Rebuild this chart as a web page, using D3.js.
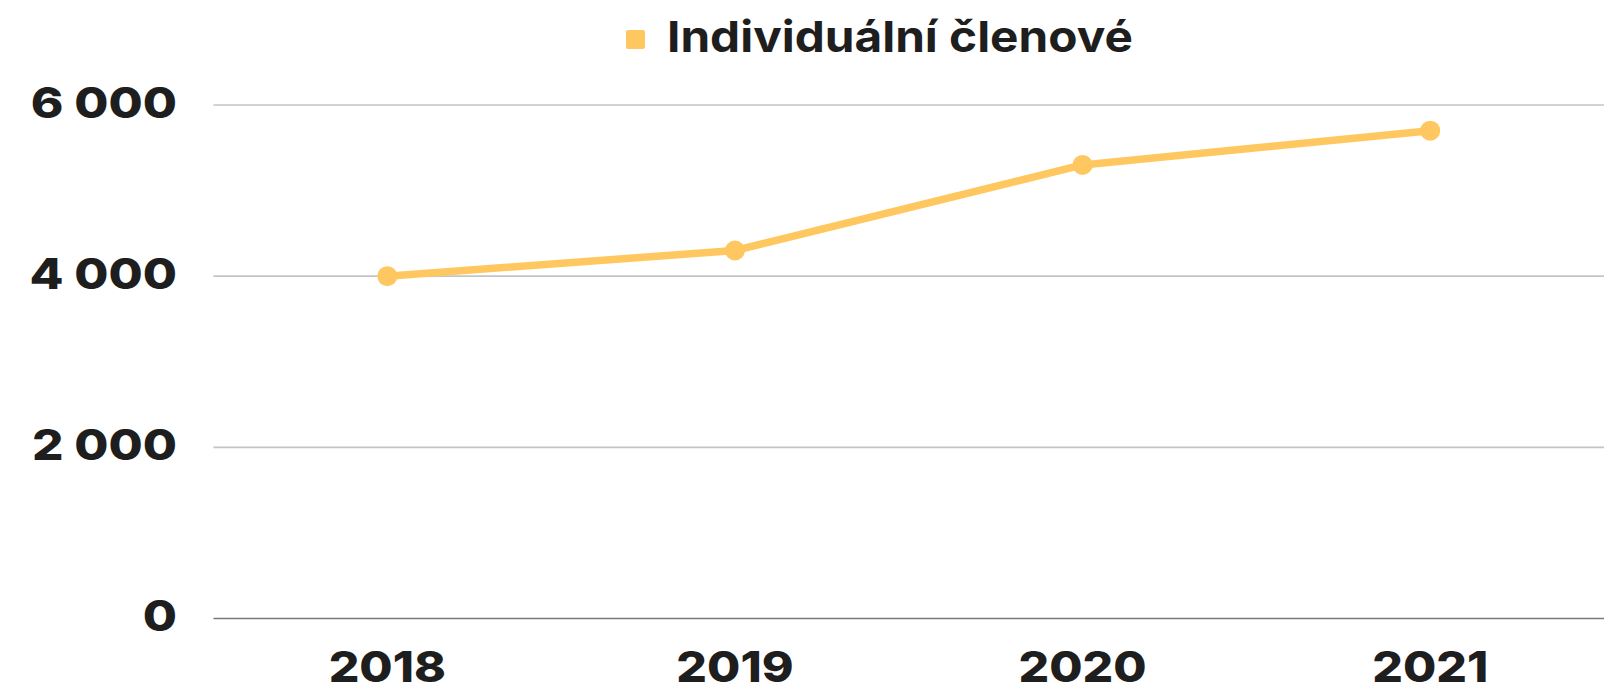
<!DOCTYPE html>
<head>
  <meta charset="UTF-8">
  <style>
    body { margin: 0; background: #fff; font-family: Inter, sans-serif; }
    svg { display: block; }
  </style>
</head>
<body>
<svg id="chart" width="1607" height="688"></svg>
<script src="https://d3js.org/d3.v7.min.js"></script>
<script>
  // data
  var years = ["2018", "2019", "2020", "2021"];
  var members = [4000, 4300, 5300, 5700];
  var yTicks = [0, 2000, 4000, 6000];
  var seriesName = "Individuální členové";

  var width = 1607, height = 688;
  var margin = {top: 105, right: 3, bottom: 69.5, left: 213.5};

  var svg = d3.select("#chart");

  var x = d3.scaleBand()
    .domain(years)
    .range([margin.left, width - margin.right]);

  var y = d3.scaleLinear()
    .domain([0, 6000])
    .range([height - margin.bottom, margin.top]);

  var fmt = function(d) { return d3.format(",")(d).replace(/,/g, " "); };

  // the original font is wider than Inter, so stretch the text a bit
  function widen(k) {
    return function(sel) {
      sel.each(function() {
        var w = this.getComputedTextLength();
        d3.select(this)
          .attr("textLength", w * k)
          .attr("lengthAdjust", "spacingAndGlyphs");
      });
    };
  }

  // gridlines
  svg.append("g")
    .selectAll("line")
    .data(yTicks)
    .join("line")
    .attr("x1", margin.left)
    .attr("x2", width - margin.right)
    .attr("y1", d => y(d))
    .attr("y2", d => y(d))
    .attr("stroke", d => d === 0 ? "#7a7a7a" : "#c4c4c4")
    .attr("stroke-width", 1.6);

  // y labels
  svg.append("g")
    .selectAll("text")
    .data(yTicks)
    .join("text")
    .attr("x", 177)
    .attr("y", d => y(d) + 12.5)
    .attr("text-anchor", "end")
    .attr("fill", "#1e1e1e")
    .attr("font-size", 43)
    .attr("font-weight", 800)
    .text(fmt)
    .call(widen(1.15));

  // x labels
  svg.append("g")
    .selectAll("text")
    .data(years)
    .join("text")
    .attr("x", d => x(d) + x.bandwidth() / 2)
    .attr("y", 682)
    .attr("text-anchor", "middle")
    .attr("fill", "#1e1e1e")
    .attr("font-size", 43)
    .attr("font-weight", 800)
    .text(d => d)
    .call(widen(1.12));

  // line
  var pts = years.map((d, i) => ({year: d, value: members[i]}));
  var line = d3.line()
    .x(d => x(d.year) + x.bandwidth() / 2)
    .y(d => y(d.value));

  svg.append("path")
    .datum(pts)
    .attr("d", line)
    .attr("fill", "none")
    .attr("stroke", "#ffc75f")
    .attr("stroke-width", 7.5)
    .attr("stroke-linejoin", "round");

  svg.append("g")
    .selectAll("circle")
    .data(pts)
    .join("circle")
    .attr("cx", d => x(d.year) + x.bandwidth() / 2)
    .attr("cy", d => y(d.value))
    .attr("r", 10)
    .attr("fill", "#ffc75f");

  // legend
  var legend = svg.append("g");
  legend.append("rect")
    .attr("x", 626)
    .attr("y", 30)
    .attr("width", 19)
    .attr("height", 19)
    .attr("rx", 2)
    .attr("fill", "#ffc75f");
  legend.append("text")
    .attr("x", 667)
    .attr("y", 52.3)
    .attr("fill", "#1e1e1e")
    .attr("font-size", 43)
    .attr("font-weight", 700)
    .text(seriesName)
    .call(widen(1.11));
</script>
</body>
</html>
